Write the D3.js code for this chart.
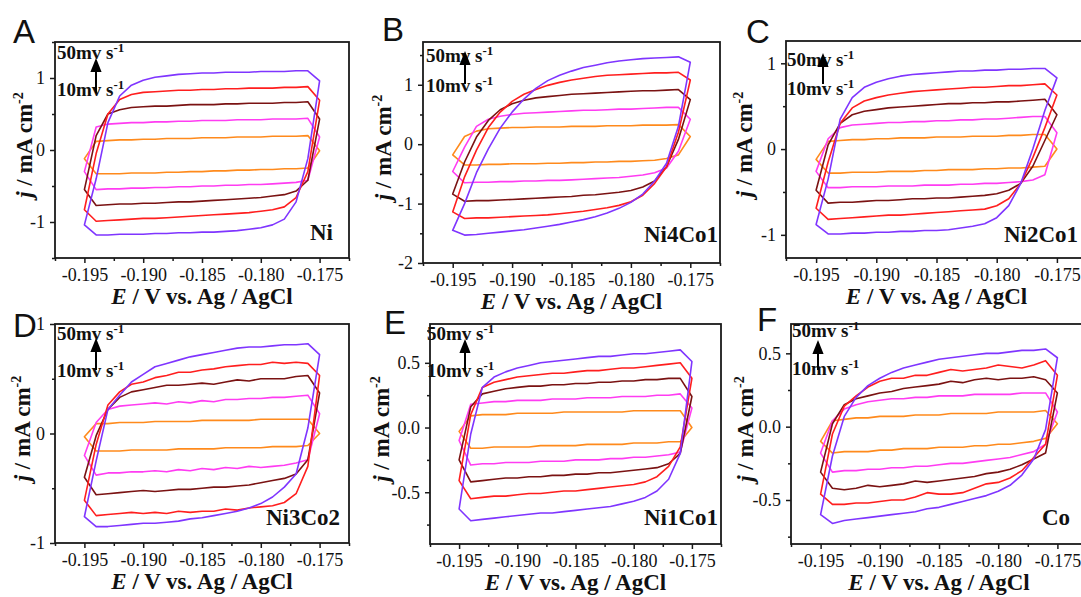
<!DOCTYPE html>
<html><head><meta charset="utf-8">
<script src="https://cdn.jsdelivr.net/npm/d3@7"></script>
<style>
body{margin:0;background:#fff}
svg{display:block}
</style></head><body>
<svg id="fig" width="1081" height="597"></svg>
<script>
// Sweep potentials (V vs Ag/AgCl), anodic direction
const potential = [-0.195,-0.194,-0.193,-0.192,-0.191,-0.190,-0.189,-0.188,-0.187,-0.186,-0.185,-0.184,-0.183,-0.182,-0.181,-0.180,-0.179,-0.178,-0.177,-0.176,-0.175];
const scanRates = [10,20,30,40,50];             // mV s-1
const rateColors = ["#ff8a1c","#ff3cf2","#7a1212","#ff1e1e","#7f35ff"];
const samples = ["Ni","Ni4Co1","Ni2Co1","Ni3Co2","Ni1Co1","Co"];
const panelLetters = ["A","B","C","D","E","F"];
const xTicks = [-0.195,-0.190,-0.185,-0.180,-0.175];
const xMinorTicks = [-0.1975,-0.1925,-0.1875,-0.1825,-0.1775,-0.1725];

// current density j (mA cm-2): anodic branch at every potential,
// cathodic branch from -0.176 back to -0.194 V; one row per scan rate
const niAnodic = [
 [-0.12,0.12,0.13,0.14,0.14,0.15,0.15,0.16,0.16,0.16,0.17,0.17,0.17,0.18,0.18,0.18,0.19,0.19,0.19,0.20,-0.01],
 [-0.30,0.32,0.36,0.37,0.38,0.38,0.39,0.39,0.40,0.40,0.41,0.41,0.41,0.42,0.42,0.42,0.43,0.43,0.43,0.44,0.18],
 [-0.55,0.20,0.50,0.56,0.59,0.60,0.61,0.61,0.62,0.63,0.63,0.63,0.64,0.64,0.65,0.65,0.65,0.66,0.66,0.67,0.43],
 [-0.83,-0.05,0.50,0.70,0.77,0.80,0.81,0.82,0.83,0.83,0.84,0.84,0.85,0.85,0.86,0.86,0.86,0.87,0.87,0.88,0.69],
 [-1.04,-0.40,0.38,0.75,0.90,0.97,1.01,1.03,1.05,1.06,1.07,1.07,1.08,1.08,1.08,1.09,1.09,1.09,1.10,1.10,0.96]
];
const niCathodic = [
 [-0.25,-0.26,-0.26,-0.27,-0.27,-0.28,-0.28,-0.29,-0.29,-0.30,-0.30,-0.31,-0.31,-0.32,-0.32,-0.32,-0.33,-0.33,-0.33],
 [-0.42,-0.45,-0.46,-0.47,-0.48,-0.48,-0.49,-0.49,-0.50,-0.50,-0.51,-0.51,-0.52,-0.52,-0.53,-0.53,-0.54,-0.54,-0.55],
 [-0.42,-0.57,-0.62,-0.64,-0.66,-0.67,-0.68,-0.69,-0.70,-0.71,-0.72,-0.72,-0.73,-0.74,-0.74,-0.75,-0.75,-0.76,-0.77],
 [-0.30,-0.66,-0.79,-0.83,-0.85,-0.87,-0.88,-0.89,-0.90,-0.91,-0.92,-0.93,-0.94,-0.95,-0.95,-0.96,-0.97,-0.98,-0.99],
 [-0.12,-0.72,-0.96,-1.04,-1.08,-1.10,-1.12,-1.13,-1.14,-1.14,-1.15,-1.15,-1.16,-1.16,-1.17,-1.17,-1.17,-1.18,-1.18]
];

const ni4co1Anodic = [
 [-0.18,0.13,0.22,0.26,0.27,0.28,0.28,0.29,0.29,0.29,0.30,0.30,0.30,0.31,0.31,0.31,0.32,0.32,0.32,0.33,0.13],
 [-0.46,-0.05,0.30,0.42,0.47,0.50,0.52,0.53,0.54,0.55,0.56,0.57,0.57,0.58,0.59,0.59,0.60,0.61,0.62,0.62,0.42],
 [-0.84,-0.30,0.12,0.40,0.58,0.68,0.74,0.78,0.80,0.82,0.84,0.85,0.86,0.87,0.88,0.89,0.90,0.90,0.91,0.92,0.75],
 [-1.14,-0.55,-0.10,0.28,0.54,0.72,0.84,0.92,0.99,1.04,1.08,1.11,1.14,1.16,1.17,1.18,1.19,1.20,1.20,1.21,1.08],
 [-1.45,-1.00,-0.48,-0.08,0.27,0.54,0.76,0.94,1.07,1.16,1.23,1.29,1.33,1.37,1.40,1.42,1.44,1.45,1.46,1.47,1.38]
];
const ni4co1Cathodic = [
 [-0.18,-0.24,-0.27,-0.28,-0.29,-0.29,-0.30,-0.30,-0.31,-0.31,-0.32,-0.32,-0.33,-0.33,-0.33,-0.34,-0.34,-0.35,-0.35],
 [-0.12,-0.40,-0.48,-0.52,-0.54,-0.56,-0.57,-0.58,-0.59,-0.60,-0.61,-0.61,-0.62,-0.62,-0.63,-0.63,-0.64,-0.64,-0.65],
 [0.08,-0.38,-0.62,-0.72,-0.78,-0.81,-0.83,-0.85,-0.86,-0.88,-0.89,-0.90,-0.91,-0.92,-0.93,-0.94,-0.95,-0.95,-0.96],
 [0.20,-0.38,-0.66,-0.86,-0.97,-1.03,-1.07,-1.10,-1.13,-1.15,-1.17,-1.19,-1.20,-1.21,-1.22,-1.23,-1.24,-1.24,-1.25],
 [0.30,-0.32,-0.62,-0.84,-0.98,-1.08,-1.16,-1.22,-1.27,-1.31,-1.35,-1.38,-1.41,-1.44,-1.46,-1.48,-1.50,-1.52,-1.53]
];

const ni2co1Anodic = [
 [-0.12,0.09,0.10,0.11,0.11,0.12,0.12,0.13,0.13,0.13,0.14,0.14,0.14,0.15,0.15,0.15,0.16,0.16,0.17,0.17,0.00],
 [-0.26,0.12,0.25,0.28,0.29,0.30,0.31,0.31,0.32,0.32,0.33,0.33,0.34,0.34,0.35,0.35,0.36,0.37,0.38,0.38,0.19],
 [-0.48,0.05,0.30,0.40,0.44,0.46,0.48,0.49,0.50,0.51,0.52,0.53,0.53,0.54,0.54,0.55,0.55,0.56,0.57,0.58,0.40],
 [-0.69,-0.15,0.30,0.48,0.56,0.60,0.63,0.65,0.67,0.68,0.69,0.70,0.71,0.72,0.72,0.73,0.74,0.74,0.75,0.76,0.63],
 [-0.88,-0.35,0.35,0.60,0.72,0.78,0.82,0.85,0.87,0.88,0.89,0.90,0.91,0.91,0.92,0.92,0.93,0.93,0.94,0.94,0.83]
];
const ni2co1Cathodic = [
 [-0.20,-0.21,-0.22,-0.22,-0.23,-0.23,-0.24,-0.24,-0.24,-0.25,-0.25,-0.26,-0.26,-0.26,-0.27,-0.27,-0.27,-0.28,-0.28],
 [-0.30,-0.36,-0.38,-0.39,-0.40,-0.40,-0.41,-0.41,-0.42,-0.42,-0.42,-0.43,-0.43,-0.43,-0.44,-0.44,-0.44,-0.45,-0.45],
 [0.10,-0.20,-0.40,-0.48,-0.52,-0.54,-0.55,-0.56,-0.57,-0.57,-0.58,-0.58,-0.59,-0.60,-0.60,-0.61,-0.62,-0.62,-0.63],
 [0.25,-0.10,-0.40,-0.58,-0.66,-0.70,-0.71,-0.72,-0.73,-0.74,-0.75,-0.76,-0.77,-0.77,-0.78,-0.79,-0.80,-0.81,-0.82],
 [0.45,0.00,-0.40,-0.66,-0.80,-0.87,-0.90,-0.92,-0.94,-0.95,-0.95,-0.96,-0.96,-0.97,-0.97,-0.98,-0.98,-0.99,-0.99]
];

const ni3co2Anodic = [
 [-0.03,0.09,0.09,0.10,0.10,0.10,0.11,0.11,0.11,0.11,0.12,0.12,0.12,0.12,0.12,0.13,0.13,0.13,0.13,0.13,0.00],
 [-0.20,0.10,0.22,0.25,0.26,0.27,0.28,0.27,0.29,0.28,0.30,0.29,0.31,0.31,0.32,0.32,0.33,0.33,0.34,0.35,0.18],
 [-0.40,-0.02,0.22,0.33,0.38,0.40,0.42,0.44,0.44,0.45,0.46,0.45,0.47,0.49,0.48,0.50,0.50,0.50,0.52,0.53,0.37],
 [-0.61,-0.10,0.26,0.38,0.45,0.47,0.51,0.53,0.56,0.56,0.58,0.59,0.61,0.62,0.63,0.63,0.65,0.64,0.65,0.64,0.53],
 [-0.76,-0.25,0.22,0.35,0.47,0.54,0.61,0.64,0.67,0.70,0.72,0.74,0.76,0.78,0.79,0.79,0.80,0.81,0.81,0.82,0.72]
];
const ni3co2Cathodic = [
 [-0.11,-0.12,-0.12,-0.12,-0.13,-0.13,-0.13,-0.13,-0.14,-0.14,-0.14,-0.14,-0.15,-0.15,-0.15,-0.15,-0.16,-0.16,-0.16],
 [-0.24,-0.27,-0.29,-0.30,-0.31,-0.30,-0.32,-0.31,-0.33,-0.32,-0.34,-0.33,-0.35,-0.34,-0.35,-0.35,-0.36,-0.36,-0.38],
 [-0.24,-0.37,-0.41,-0.43,-0.45,-0.47,-0.48,-0.49,-0.49,-0.50,-0.51,-0.51,-0.52,-0.53,-0.52,-0.53,-0.54,-0.55,-0.56],
 [-0.30,-0.55,-0.63,-0.66,-0.67,-0.68,-0.70,-0.69,-0.71,-0.71,-0.72,-0.71,-0.73,-0.72,-0.73,-0.72,-0.73,-0.74,-0.75],
 [0.05,-0.37,-0.49,-0.58,-0.64,-0.68,-0.71,-0.73,-0.75,-0.77,-0.78,-0.80,-0.81,-0.82,-0.82,-0.83,-0.84,-0.85,-0.85]
];

const ni1co1Anodic = [
 [-0.03,0.09,0.10,0.10,0.10,0.11,0.11,0.11,0.11,0.12,0.12,0.12,0.12,0.12,0.12,0.13,0.13,0.13,0.13,0.13,0.00],
 [-0.10,0.18,0.19,0.20,0.20,0.21,0.21,0.21,0.22,0.22,0.22,0.23,0.23,0.23,0.24,0.24,0.24,0.25,0.25,0.26,0.15],
 [-0.25,0.16,0.26,0.28,0.30,0.31,0.32,0.32,0.33,0.33,0.34,0.34,0.35,0.35,0.36,0.36,0.37,0.37,0.38,0.38,0.24],
 [-0.41,0.10,0.31,0.35,0.37,0.39,0.40,0.41,0.42,0.42,0.43,0.44,0.44,0.45,0.46,0.46,0.47,0.48,0.49,0.50,0.38],
 [-0.63,-0.05,0.31,0.39,0.43,0.46,0.48,0.50,0.51,0.52,0.53,0.54,0.55,0.55,0.56,0.57,0.57,0.58,0.59,0.60,0.51]
];
const ni1co1Cathodic = [
 [-0.11,-0.11,-0.12,-0.12,-0.12,-0.13,-0.13,-0.13,-0.13,-0.14,-0.14,-0.14,-0.14,-0.15,-0.15,-0.15,-0.15,-0.16,-0.16],
 [-0.19,-0.21,-0.22,-0.23,-0.23,-0.24,-0.24,-0.25,-0.25,-0.25,-0.26,-0.26,-0.26,-0.27,-0.27,-0.27,-0.28,-0.28,-0.29],
 [-0.20,-0.28,-0.31,-0.32,-0.33,-0.34,-0.35,-0.35,-0.36,-0.36,-0.37,-0.37,-0.38,-0.38,-0.39,-0.39,-0.40,-0.41,-0.42],
 [-0.15,-0.30,-0.38,-0.42,-0.44,-0.45,-0.46,-0.47,-0.48,-0.49,-0.49,-0.50,-0.51,-0.51,-0.52,-0.53,-0.53,-0.54,-0.55],
 [-0.20,-0.40,-0.49,-0.54,-0.57,-0.59,-0.61,-0.62,-0.63,-0.64,-0.65,-0.66,-0.66,-0.67,-0.68,-0.69,-0.70,-0.71,-0.72]
];

const coAnodic = [
 [-0.10,0.04,0.05,0.06,0.06,0.07,0.07,0.07,0.08,0.08,0.08,0.09,0.09,0.09,0.09,0.10,0.10,0.10,0.10,0.11,0.02],
 [-0.18,0.04,0.12,0.15,0.17,0.18,0.19,0.19,0.20,0.20,0.21,0.21,0.21,0.22,0.22,0.22,0.22,0.23,0.23,0.23,0.10],
 [-0.31,0.02,0.15,0.19,0.21,0.23,0.24,0.26,0.27,0.28,0.29,0.31,0.30,0.32,0.33,0.32,0.33,0.33,0.34,0.32,0.23],
 [-0.46,-0.05,0.14,0.21,0.27,0.31,0.33,0.33,0.35,0.35,0.37,0.39,0.38,0.39,0.40,0.42,0.41,0.40,0.42,0.45,0.35],
 [-0.60,-0.20,0.07,0.20,0.28,0.33,0.37,0.40,0.42,0.44,0.46,0.47,0.48,0.49,0.50,0.50,0.51,0.52,0.52,0.53,0.47]
];
const coCathodic = [
 [-0.08,-0.10,-0.11,-0.12,-0.12,-0.13,-0.13,-0.14,-0.14,-0.14,-0.15,-0.15,-0.15,-0.16,-0.16,-0.17,-0.17,-0.17,-0.18],
 [-0.12,-0.17,-0.19,-0.21,-0.22,-0.23,-0.24,-0.25,-0.25,-0.26,-0.27,-0.27,-0.28,-0.28,-0.29,-0.29,-0.30,-0.30,-0.31],
 [-0.18,-0.22,-0.26,-0.29,-0.31,-0.32,-0.34,-0.35,-0.36,-0.37,-0.38,-0.37,-0.39,-0.40,-0.41,-0.40,-0.42,-0.43,-0.42],
 [-0.12,-0.21,-0.30,-0.35,-0.38,-0.39,-0.42,-0.45,-0.46,-0.46,-0.45,-0.48,-0.50,-0.50,-0.51,-0.52,-0.52,-0.53,-0.53],
 [-0.02,-0.22,-0.33,-0.40,-0.44,-0.47,-0.49,-0.51,-0.53,-0.55,-0.56,-0.58,-0.59,-0.60,-0.61,-0.62,-0.63,-0.64,-0.66]
];

const anodicSets = [niAnodic, ni4co1Anodic, ni2co1Anodic, ni3co2Anodic, ni1co1Anodic, coAnodic];
const cathodicSets = [niCathodic, ni4co1Cathodic, ni2co1Cathodic, ni3co2Cathodic, ni1co1Cathodic, coCathodic];

// y-axis ticks for each panel
const yMajorTicks = [[-1,0,1],[-2,-1,0,1],[-1,0,1],[-1,0,1],[-0.5,0,0.5],[-0.5,0,0.5]];
const yMinorTicks = [[-1.5,-0.5,0.5,1.5],[-1.5,-0.5,0.5,1.5],[-0.5,0.5],[-0.5,0.5],[-0.75,-0.25,0.25,0.75],[-0.75,-0.25,0.25]];
const yDomains = [[-1.5,1.5],[-2,1.72],[-1.27,1.26],[-1,1],[-0.9,0.8],[-0.8,0.7]];
const yDecimals = [0,0,0,0,1,1];

// page layout of each panel
const frames = [
 {left:55, right:349, top:42, bottom:258, titleX:-31, letter:[13,43], label:[333,240], note:[57,59,96], arrow:[96,93,62]},
 {left:423,right:720, top:42, bottom:263, titleX:-40, letter:[382,41], label:[718,242], note:[426,62,92], arrow:[465,84,55]},
 {left:786,right:1087,top:41, bottom:258, titleX:-42, letter:[746,43], label:[1078,242], note:[787,66,95], arrow:[823,84,57]},
 {left:55, right:349, top:324,bottom:543, titleX:-33, letter:[13,337], label:[340,525], note:[57,340,377], arrow:[96,370,342]},
 {left:430,right:721, top:324,bottom:544, titleX:-49, letter:[384,334], label:[718,525], note:[427,340,377], arrow:[465,372,343]},
 {left:791,right:1087,top:324,bottom:544, titleX:-46, letter:[757,331], label:[1070,525], note:[792,337,375], arrow:[818,370,344]}
];

const SERIF = '"Liberation Serif", "Times New Roman", serif';
const SANS = '"Liberation Sans", Arial, sans-serif';

const svg = d3.select("#fig");
const defs = svg.append("defs");
defs.append("marker").attr("id","head").attr("viewBox","0 0 10 10")
  .attr("refX",5).attr("refY",5).attr("markerWidth",7).attr("markerHeight",7)
  .attr("orient","auto")
  .append("path").attr("d","M0,1 L10,5 L0,9 Z").attr("fill","#000");

const cathodicPotential = potential.slice(1, 20).reverse();

frames.forEach((f, p) => {
  const x = d3.scaleLinear().domain([-0.1975, -0.1725]).range([f.left, f.right]);
  const y = d3.scaleLinear().domain(yDomains[p]).range([f.bottom, f.top]);
  const g = svg.append("g");

  const clipId = "clip" + p;
  defs.append("clipPath").attr("id", clipId).append("rect")
    .attr("x", f.left).attr("y", f.top).attr("width", f.right - f.left).attr("height", f.bottom - f.top);

  // CV loops
  const line = d3.line().x(d => x(d[0])).y(d => y(d[1])).curve(d3.curveLinearClosed);
  const loops = g.append("g").attr("clip-path", `url(#${clipId})`);
  scanRates.forEach((rate, k) => {
    const pts = anodicSets[p][k].map((j, i) => [potential[i], j])
      .concat(cathodicSets[p][k].map((j, i) => [cathodicPotential[i], j]));
    loops.append("path").attr("d", line(pts)).attr("fill", "none")
      .attr("stroke", rateColors[k]).attr("stroke-width", 1.6).attr("stroke-linejoin", "round");
  });

  // frame
  g.append("rect").attr("x", f.left).attr("y", f.top)
    .attr("width", f.right - f.left).attr("height", f.bottom - f.top)
    .attr("fill", "none").attr("stroke", "#1a1a1a").attr("stroke-width", 1.8);

  // axes
  const xa = g.append("g").attr("transform", `translate(0,${f.bottom})`)
    .call(d3.axisBottom(x).tickValues(xTicks).tickSize(5).tickPadding(5).tickFormat(d => d.toFixed(3)));
  const xm = g.append("g").attr("transform", `translate(0,${f.bottom})`)
    .call(d3.axisBottom(x).tickValues(xMinorTicks).tickSize(3).tickFormat(""));
  const ya = g.append("g").attr("transform", `translate(${f.left},0)`)
    .call(d3.axisLeft(y).tickValues(yMajorTicks[p]).tickSize(5).tickPadding(5).tickFormat(d => d.toFixed(yDecimals[p])));
  const ym = g.append("g").attr("transform", `translate(${f.left},0)`)
    .call(d3.axisLeft(y).tickValues(yMinorTicks[p]).tickSize(3).tickFormat(""));
  [xa, xm, ya, ym].forEach(a => {
    a.attr("font-family", null).attr("font-size", null);
    a.select(".domain").remove();
    a.selectAll("line").attr("stroke", "#1a1a1a").attr("stroke-width", 1.5);
    a.selectAll("text").style("font-family", SERIF).style("font-size", "18px").attr("fill", "#111");
  });

  // axis titles
  const cx = (f.left + f.right) / 2, cy = (f.top + f.bottom) / 2;
  const xt = g.append("text").attr("x", cx).attr("y", f.bottom + 46)
    .attr("text-anchor", "middle").style("font-family", SERIF).style("font-size", "23px")
    .attr("font-weight", "bold").attr("fill", "#111");
  xt.append("tspan").attr("font-style", "italic").text("E");
  xt.append("tspan").text(" / V vs. Ag / AgCl");

  const yt = g.append("text").attr("transform", `translate(${f.left + f.titleX + 8},${cy - 5}) rotate(-90)`)
    .attr("text-anchor", "middle").style("font-family", SERIF).style("font-size", "23px")
    .attr("font-weight", "bold").attr("fill", "#111");
  yt.append("tspan").attr("font-style", "italic").text("j");
  yt.append("tspan").text(" / mA cm");
  yt.append("tspan").style("font-size", "14px").attr("dy", -9).text("-2");

  // panel letter
  g.append("text").attr("x", f.letter[0]).attr("y", f.letter[1])
    .style("font-family", SANS).style("font-size", "33px").attr("fill", "#111").text(panelLetters[p]);

  // sample name
  g.append("text").attr("x", f.label[0]).attr("y", f.label[1]).attr("text-anchor", "end")
    .style("font-family", SERIF).style("font-size", "23px").attr("font-weight", "bold")
    .attr("fill", "#111").text(samples[p]);

  // scan-rate note with arrow
  [[scanRates[4], f.note[1]], [scanRates[0], f.note[2]]].forEach(([r, ty]) => {
    const t = g.append("text").attr("x", f.note[0]).attr("y", ty)
      .style("font-family", SERIF).style("font-size", "19px").attr("font-weight", "bold").attr("fill", "#111");
    t.append("tspan").text(r + "mv s");
    t.append("tspan").style("font-size", "13px").attr("dy", -7).text("-1");
  });
  g.append("line").attr("x1", f.arrow[0]).attr("x2", f.arrow[0])
    .attr("y1", f.arrow[1]).attr("y2", f.arrow[2] + 3)
    .attr("stroke", "#000").attr("stroke-width", 2).attr("marker-end", "url(#head)");
});
</script>
</body></html>
